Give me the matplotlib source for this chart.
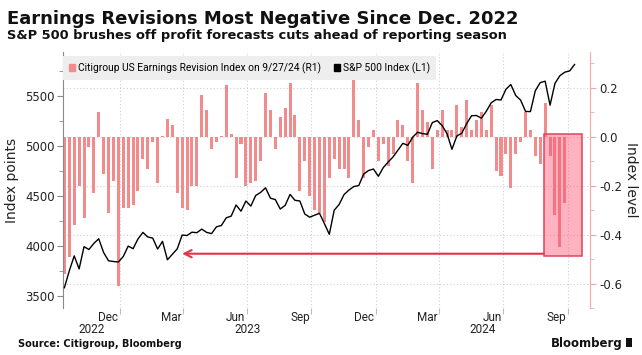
import matplotlib
matplotlib.use("Agg")
import matplotlib.pyplot as plt
import matplotlib.dates as mdates
import matplotlib.transforms as mtransforms
from matplotlib.patches import Rectangle, Patch
import pandas as pd

plt.rcParams["axes.unicode_minus"] = False

# ---------------- data ----------------
first_week = "2022-10-14"   # weekly (Friday) observations

revision_index = [
    -0.56, -0.49, -0.36, -0.20, -0.33, -0.04, -0.23, 0.10, -0.15, -0.31,
    -0.18, -0.61, -0.29, -0.29, -0.28, -0.22, -0.09, -0.13, -0.02, -0.19,
    0.003, 0.072, 0.05, -0.23, -0.29, -0.30, -0.20, -0.20, 0.17, 0.11,
    -0.05, -0.02, 0.005, 0.21, 0.01, -0.17, -0.03, -0.20, -0.19, -0.18,
    -0.10, 0.18, 0.11, -0.05, 0.08, 0.12, 0.22, 0.09, -0.22, -0.10,
    -0.24, -0.30, -0.31, -0.35, -0.17, -0.09, -0.13, -0.13, -0.17, 0.29,
    0.07, -0.17, -0.04, 0.03, -0.10, -0.03, -0.12, -0.07, 0.07, 0.05,
    -0.10, -0.19, 0.22, 0.11, 0.06, -0.13, 0.03, 0.11, 0.03, 0.03,
    0.13, 0.04, 0.15, 0.03, 0.07, 0.10, 0.03, 0.13, -0.14, -0.16,
    -0.07, -0.21, -0.07, -0.02, 0.10, 0.03, -0.08, -0.11, 0.14, -0.08,
    -0.32, -0.45, -0.27,
]

spx_index = [
    3583, 3752, 3901, 3771, 3993, 3965, 4026, 4072, 3934, 3852, 3845, 3840,
    3895, 3999, 3973, 4071, 4136, 4090, 4079, 3970, 4046, 3862, 3917, 3971,
    4109, 4105, 4138, 4133, 4169, 4136, 4124, 4192, 4205, 4282, 4299, 4410,
    4348, 4450, 4399, 4505, 4536, 4582, 4478, 4464, 4370, 4406, 4516, 4457,
    4450, 4320, 4288, 4308, 4327, 4224, 4117, 4358, 4415, 4514, 4559, 4595,
    4604, 4719, 4755, 4770,
    4697, 4784, 4840, 4891, 4959, 5027, 5006, 5089, 5137, 5124, 5117, 5234,
    5254, 5204, 5123, 4967, 5100, 5128, 5223, 5303, 5305, 5278, 5347, 5432,
    5465, 5460, 5567, 5615, 5505, 5459, 5346, 5344, 5554, 5634, 5648, 5408,
    5626, 5703, 5738, 5751, 5815,
]

month_labels = ["Dec", "Mar", "Jun", "Sep", "Dec", "Mar", "Jun", "Sep"]
month_label_dates = ["2022-12-15", "2023-03-15", "2023-06-15", "2023-09-15",
                     "2023-12-15", "2024-03-15", "2024-06-15", "2024-09-15"]
quarter_bounds = ["2023-01-01", "2023-04-01", "2023-07-01", "2023-10-01",
                  "2024-01-01", "2024-04-01", "2024-07-01", "2024-10-01"]
year_labels = ["2022", "2023", "2024"]

left_ticks = [3500, 4000, 4500, 5000, 5500]
left_minor = [3750, 4250, 4750, 5250, 5750]
right_ticks = [-0.6, -0.4, -0.2, 0.0, 0.2]
right_minor = [-0.7, -0.5, -0.3, -0.1, 0.1, 0.3]

highlight_start, highlight_end = "2024-08-28", "2024-10-21"
highlight_low, highlight_high = -0.486, 0.011
arrow_level = -0.478
arrow_target = "2023-03-31"

legend_labels = ["Citigroup US Earnings Revision Index on 9/27/24 (R1)",
                 "S&P 500 Index (L1)"]

BAR = "#F28B8B"
NARROW = ["Roboto", "DejaVu Sans"]

# ---------------- figure ----------------
W, H = 642, 355
fig = plt.figure(figsize=(W / 100, H / 100), dpi=100)
top_px, bot_px, left_px, right_px = 52, 308, 63, 590
ax = fig.add_axes([left_px / W, 1 - bot_px / H,
                   (right_px - left_px) / W, (bot_px - top_px) / H])
ax2 = ax.twinx()
ax.set_zorder(ax2.get_zorder() + 1)
ax.patch.set_visible(False)

dates = pd.date_range(first_week, periods=len(spx_index), freq="W-FRI")
bar_dates = dates[:len(revision_index)]

ax2.bar(bar_dates, revision_index, width=4.3, color=BAR, zorder=2, linewidth=0)
ax.plot(dates, spx_index, color="black", lw=1.0, zorder=3)

ax.set_xlim(pd.Timestamp("2022-10-12"), pd.Timestamp("2024-11-02"))
ax.set_ylim(3380, 5940)
ax2.set_ylim(-0.698, 0.347)

# highlight box and arrow
x0 = mdates.date2num(pd.Timestamp(highlight_start))
x1 = mdates.date2num(pd.Timestamp(highlight_end))
ax2.add_patch(Rectangle((x0, highlight_low), x1 - x0, highlight_high - highlight_low,
                        facecolor=(1.0, 0.33, 0.45, 0.45), edgecolor="#E04458",
                        lw=1.1, zorder=4))
ax2.annotate("", xy=(mdates.date2num(pd.Timestamp(arrow_target)), arrow_level),
             xytext=(x0, arrow_level),
             arrowprops=dict(arrowstyle="->", color="#E0354D", lw=1.5,
                             mutation_scale=13, shrinkA=0, shrinkB=0),
             zorder=5)

# grid
for d in quarter_bounds:
    ax2.axvline(pd.Timestamp(d), color="#cfcfcf", lw=0.8, ls=(0, (1, 2)), zorder=0)
ax2.set_yticks(right_ticks)
ax2.set_yticks(right_minor, minor=True)
ax2.grid(axis="y", which="major", color="#cfcfcf", lw=0.8, ls=(0, (1, 2)), zorder=0)

# spines
for s in ["top", "bottom", "right"]:
    ax.spines[s].set_visible(False)
ax.spines["left"].set_color("#8a8a8a")
for s in ["top", "bottom", "left"]:
    ax2.spines[s].set_visible(False)
ax2.spines["right"].set_color("#F4A7AE")

# left axis ticks
ax.set_yticks(left_ticks)
ax.set_yticks(left_minor, minor=True)
ax.tick_params(axis="y", which="major", length=4, color="#8a8a8a", labelsize=8.5,
               labelcolor="#222222", pad=2)
ax.tick_params(axis="y", which="minor", length=3, color="#8a8a8a")
ax.set_ylabel("Index points", fontsize=10, color="#222222", labelpad=4)

# right axis ticks
ax2.set_yticklabels([f"{v:.1f}" for v in right_ticks])
ax2.tick_params(axis="y", which="major", length=4, color="#F4A7AE", labelsize=8.5,
                labelcolor="#222222", pad=3)
ax2.tick_params(axis="y", which="minor", length=3, color="#F4A7AE")
ax2.set_ylabel("Index level", fontsize=10, color="#222222", rotation=270, labelpad=11)

# x axis
ax.set_xticks([pd.Timestamp(d) for d in quarter_bounds])
ax.set_xticklabels([""] * len(quarter_bounds))
ax.tick_params(axis="x", which="major", length=4, color="#bbbbbb")
ax.set_xticks([pd.Timestamp(d) for d in month_label_dates], minor=True)
ax.set_xticklabels(month_labels, minor=True, family=NARROW, fontsize=8.5,
                   color="#222222")
ax.tick_params(axis="x", which="minor", length=0, pad=2)

trans = mtransforms.blended_transform_factory(ax.transData, ax.transAxes)
xl = ax.get_xlim()
year_bounds = [xl[0], mdates.date2num(pd.Timestamp("2023-01-01")),
               mdates.date2num(pd.Timestamp("2024-01-01")), xl[1]]
for i, y in enumerate(year_labels):
    ax.text((year_bounds[i] + year_bounds[i + 1]) / 2, -0.083, y, transform=trans,
            ha="center", va="center", family=NARROW, fontsize=8.5, color="#222222")

# legend
handles = [Patch(color=BAR), Patch(color="black")]
leg = ax.legend(handles, legend_labels, loc="upper left", bbox_to_anchor=(0.0, 0.985),
                ncol=2, frameon=True, fancybox=False, facecolor="#EEEEEE",
                edgecolor="none", framealpha=1, prop={"family": NARROW, "size": 7.4},
                handlelength=0.6, handleheight=0.6, handletextpad=0.3,
                columnspacing=1.2, borderpad=0.6, borderaxespad=0.0)

# titles and footer
fig.text(7 / W, 1 - 24 / H, "Earnings Revisions Most Negative Since Dec. 2022",
         fontsize=13, weight="bold", color="#111111", va="baseline")
fig.text(7 / W, 1 - 39.5 / H,
         "S&P 500 brushes off profit forecasts cuts ahead of reporting season",
         fontsize=9.4, weight="bold", color="#111111", va="baseline")
fig.text(18 / W, 1 - 347 / H, "Source: Citigroup, Bloomberg", fontsize=7,
         weight="bold", color="#111111", va="baseline")
fig.text(623 / W, 1 - 347 / H, "Bloomberg", fontsize=8.5, weight="bold",
         color="#111111", va="baseline", ha="right")
fig.patches.append(Rectangle((626 / W, 1 - 347 / H), 6 / W, 9 / H,
                             transform=fig.transFigure, facecolor="#111111",
                             edgecolor="none"))

fig.savefig("out.png", dpi=100)
